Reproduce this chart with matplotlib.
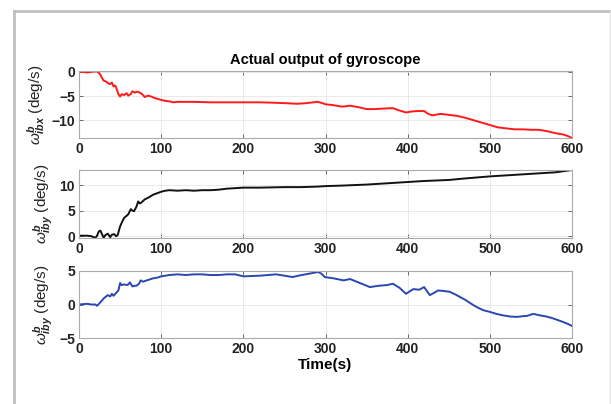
import numpy as np
import matplotlib
matplotlib.use("Agg")
import matplotlib.pyplot as plt
from matplotlib.lines import Line2D

plt.rcParams['font.family'] = 'Liberation Sans'
plt.rcParams['mathtext.fontset'] = 'custom'
plt.rcParams['mathtext.it'] = 'Liberation Sans:style=italic'
plt.rcParams['mathtext.rm'] = 'Liberation Sans'
plt.rcParams['mathtext.bf'] = 'Liberation Sans:style=italic:weight=bold'

# gyro x (red)
t_x = [0, 5, 10, 15, 18, 22, 25, 28, 30, 33, 36, 38, 40, 42, 44, 46, 48, 50, 52, 55, 58, 60, 63, 65,
       68, 70, 73, 76, 78, 80, 84, 88, 92, 96, 100, 105, 110, 115, 120, 140, 160, 180, 200, 220, 240,
       255, 265, 275, 285, 290, 295, 300, 310, 320, 325, 330, 340, 350, 360, 370, 382, 390, 398, 405,
       412, 420, 425, 430, 440, 450, 460, 470, 480, 490, 500, 510, 520, 530, 540, 550, 560, 570, 580,
       590, 595, 600]
w_x = [0.0, 0.0, -0.1, 0.0, 0.1, 0.1, -0.3, -1.2, -1.8, -2.0, -2.4, -2.5, -2.2, -3.0, -2.8, -3.6, -4.6, -5.1,
       -4.6, -4.8, -4.4, -4.9, -4.6, -4.0, -4.3, -4.1, -4.2, -4.5, -4.8, -5.2, -4.9, -5.1, -5.4, -5.6, -5.8,
       -6.0, -6.1, -6.3, -6.2, -6.2, -6.3, -6.3, -6.3, -6.3, -6.4, -6.5, -6.6, -6.5, -6.3, -6.2, -6.4, -6.7,
       -6.9, -7.2, -7.1, -7.0, -7.3, -7.7, -7.7, -7.6, -7.5, -8.0, -8.4, -8.2, -8.1, -8.1, -8.7, -9.0,
       -8.7, -8.9, -9.1, -9.5, -10.0, -10.5, -11.0, -11.5, -11.7, -11.9, -11.9, -12.0, -12.0, -12.3,
       -12.7, -13.0, -13.3, -13.7]

# gyro y (black)
t_y = [0, 5, 10, 15, 18, 20, 22, 24, 26, 28, 30, 32, 35, 38, 40, 43, 45, 47, 50, 53, 55, 58, 60, 63,
       65, 67, 70, 72, 74, 76, 78, 80, 85, 90, 95, 100, 105, 110, 120, 130, 140, 150, 160, 170, 180, 200,
       220, 250, 270, 290, 300, 320, 350, 370, 390, 400, 420, 450, 470, 500, 530, 560, 580, 600]
w_y = [0.1, 0.1, 0.1, 0.0, -0.2, -0.3, 0.1, 0.9, 1.1, 0.4, -0.3, 0.2, 0.5, -0.2, 0.3, 0.4, 0.0, 0.2, 1.9,
       3.0, 3.6, 4.0, 4.3, 5.3, 5.0, 4.9, 5.8, 6.8, 6.4, 6.6, 6.9, 7.2, 7.6, 8.1, 8.4, 8.7, 8.9, 9.0, 8.9,
       9.0, 8.9, 9.0, 9.0, 9.1, 9.3, 9.5, 9.5, 9.6, 9.6, 9.7, 9.8, 9.9, 10.1, 10.3, 10.5, 10.6, 10.8,
       11.0, 11.3, 11.7, 12.0, 12.3, 12.5, 12.95]

# gyro z (blue)
t_z = [0, 5, 10, 15, 20, 22, 25, 28, 30, 33, 35, 38, 40, 42, 45, 48, 50, 52, 55, 58, 60, 62, 65, 68, 70,
       73, 75, 78, 80, 85, 90, 95, 100, 110, 120, 130, 140, 150, 160, 170, 180, 190, 200, 210, 220, 230,
       240, 250, 260, 269, 280, 291, 295, 299, 310, 322, 330, 340, 354, 365, 375, 382, 390, 398, 403, 407,
       414, 420, 427, 433, 437, 445, 451, 458, 464, 470, 480, 486, 492, 500, 508, 515, 525, 533, 540, 545,
       553, 560, 569, 575, 580, 589, 595, 600]
w_z = [0.0, 0.05, 0.1, 0.0, 0.0, -0.2, 0.2, 0.6, 0.9, 1.2, 1.4, 1.2, 1.6, 1.3, 1.7, 2.1, 3.2, 2.9, 3.0, 2.9,
       3.0, 3.3, 2.7, 2.8, 2.8, 3.1, 3.6, 3.4, 3.5, 3.7, 3.9, 4.0, 4.2, 4.4, 4.5, 4.4, 4.5, 4.5, 4.4, 4.4,
       4.5, 4.5, 4.2, 4.25, 4.3, 4.4, 4.5, 4.3, 4.1, 4.35, 4.6, 4.85, 4.6, 4.1, 3.9, 3.6, 3.8, 3.3, 2.6,
       2.8, 2.9, 3.1, 2.5, 1.6, 2.0, 2.3, 2.2, 2.6, 1.4, 1.8, 2.1, 2.0, 1.9, 1.5, 1.1, 0.7, -0.1, -0.5,
       -0.85, -1.1, -1.4, -1.6, -1.8, -1.85, -1.75, -1.7, -1.4, -1.6, -1.8, -2.0, -2.2, -2.6, -2.9, -3.2]

ylabels = [r'$\omega^{\mathbf{b}}_{\mathbf{ibx}}$ (deg/s)',
           r'$\omega^{\mathbf{b}}_{\mathbf{iby}}$ (deg/s)',
           r'$\omega^{\mathbf{b}}_{\mathbf{iby}}$ (deg/s)']

fig = plt.figure(figsize=(6.11, 4.04), dpi=100)

# gray frame around the figure
fig.add_artist(Line2D([14/611, 14/611], [0, 1 - 11/404], transform=fig.transFigure, color='#c0c0c0', lw=2))
fig.add_artist(Line2D([14/611, 1], [1 - 11/404, 1 - 11/404], transform=fig.transFigure, color='#c0c0c0', lw=2))
fig.add_artist(Line2D([610/611, 610/611], [0, 1 - 11/404], transform=fig.transFigure, color='#e0e0e0', lw=1))

left = 79/611
width = (572 - 79)/611
boxes = [(71, 138), (170, 238), (271, 338)]
series = [(t_x, w_x, '#ff1a1a', (-13.7, 0.2), [-10, -5, 0]),
          (t_y, w_y, '#111111', (-0.35, 12.95), [0, 5, 10]),
          (t_z, w_z, '#2a46b0', (-5, 5), [-5, 0, 5])]

axes = []
for (top, bot), (t, w, c, yl, yt), lab in zip(boxes, series, ylabels):
    ax = fig.add_axes([left, 1 - bot/404, width, (bot - top)/404])
    ax.plot(t, w, color=c, lw=1.4)
    ax.set_xlim(0, 600)
    ax.set_ylim(*yl)
    ax.set_yticks(yt)
    ax.set_xticks(range(0, 601, 100))
    ax.grid(True, color='#e6e6e6', lw=0.6)
    ax.tick_params(direction='in', length=3, width=0.6, color='#555555', top=True, right=True,
                   labelsize=10, pad=3)
    for lbl in ax.get_xticklabels() + ax.get_yticklabels():
        lbl.set_fontweight('bold')
        lbl.set_color('#222222')
    for s in ax.spines.values():
        s.set_color('#aaaaaa')
        s.set_linewidth(0.8)
    ax.set_ylabel(lab, fontsize=11, color='#222222', labelpad=3)
    axes.append(ax)

axes[0].set_title('Actual output of gyroscope', fontsize=10.5, fontweight='bold', pad=5)
axes[2].set_xlabel('Time(s)', fontsize=11, fontweight='bold', labelpad=1)
fig.align_ylabels(axes)

fig.savefig('out.png', dpi=100)
